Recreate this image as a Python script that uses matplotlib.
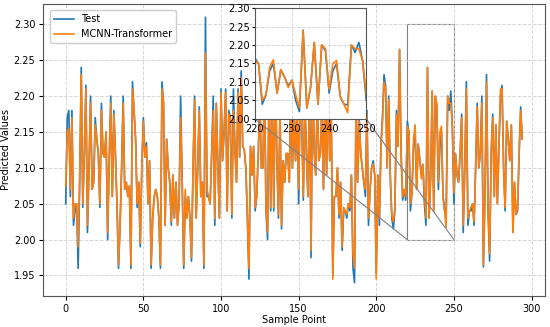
import matplotlib
matplotlib.use("Agg")
import matplotlib.pyplot as plt
from mpl_toolkits.axes_grid1.inset_locator import mark_inset

test_values = [
    2.05, 2.17, 2.18, 2.06, 2.18, 2.02, 2.04, 2.05, 1.96, 2.08,
    2.24, 2.045, 2.12, 2.215, 2.01, 2.10, 2.20, 2.07, 2.08, 2.17,
    2.14, 2.12, 2.045, 2.19, 2.12, 2.115, 2.15, 2.00, 2.11, 2.20,
    2.06, 2.18, 2.12, 2.05, 1.96, 2.02, 2.10, 2.20, 2.07, 2.08,
    2.06, 2.075, 1.96, 2.22, 2.18, 2.14, 2.045, 2.08, 1.99, 2.10,
    2.17, 2.115, 2.135, 2.05, 2.11, 1.96, 2.03, 2.06, 2.07, 2.06,
    2.03, 1.96, 2.22, 2.19, 2.02, 2.14, 2.10, 2.08, 2.02, 2.09,
    2.03, 2.08, 2.02, 2.05, 2.20, 2.08, 1.96, 2.06, 2.03, 2.06,
    2.03, 1.97, 2.10, 2.20, 2.03, 2.10, 2.185, 2.06, 2.08, 1.96,
    2.31, 2.06, 2.06, 2.05, 2.12, 2.20, 2.02, 2.19, 2.10, 2.03,
    2.21, 2.11, 2.15, 2.21, 2.04, 2.18, 2.17, 2.03, 2.21, 2.125,
    2.08, 2.21, 2.115, 2.235, 2.13, 2.125, 2.10, 2.03, 1.945, 2.13,
    2.09, 2.13, 2.04, 2.06, 2.12, 2.20, 2.10, 2.10, 2.22, 2.04,
    2.00, 2.24, 2.04, 2.20, 2.04, 2.25, 2.11, 2.03, 2.18, 2.015,
    2.11, 2.08, 2.12, 2.12, 2.08, 2.22, 2.10, 2.18, 2.11, 2.19,
    2.05, 2.21, 2.17, 2.055, 2.20, 2.12, 2.06, 2.22, 1.975, 2.24,
    2.125, 2.09, 2.20, 2.11, 2.12, 2.19, 2.07, 2.21, 2.09, 2.23,
    2.11, 2.18, 1.95, 2.06, 2.06, 2.10, 2.03, 2.08, 1.985, 2.04,
    2.04, 2.03, 2.05, 2.04, 2.09, 1.96, 1.94, 2.20, 2.08, 2.17,
    2.12, 2.10, 2.08, 2.06, 2.18, 2.02, 2.07, 2.10, 2.11, 2.09,
    1.953, 2.09, 2.02, 2.13, 2.17, 2.23, 2.215, 2.10, 2.20, 2.09,
    2.03, 2.015, 2.04, 2.18, 2.13, 2.265, 2.12, 2.055, 2.07, 2.055,
    2.165, 2.15, 2.04, 2.065, 2.13, 2.15, 2.07, 2.133, 2.113, 2.09,
    2.105, 2.05, 2.02, 2.24, 2.03, 2.085, 2.207, 2.04, 2.20, 2.185,
    2.07, 2.13, 2.15, 2.06, 2.04, 2.038, 2.20, 2.18, 2.207, 2.158,
    2.05, 2.12, 2.09, 2.08, 2.12, 2.175, 2.01, 2.10, 2.22, 2.02,
    2.04, 2.04, 2.05, 2.02, 2.10, 2.19, 2.10, 2.12, 2.20, 1.962,
    2.06, 2.23, 2.04, 1.97, 2.12, 2.175, 2.06, 2.16, 2.05, 2.13,
    2.20, 2.215, 2.10, 2.04, 2.165, 2.14, 2.11, 2.16, 2.01, 2.08,
    2.035, 2.04, 2.12, 2.185, 2.14,
]

pred_values = [
    2.075, 2.15, 2.155, 2.07, 2.17, 2.03, 2.05, 2.05, 1.99, 2.09,
    2.23, 2.05, 2.12, 2.21, 2.02, 2.10, 2.19, 2.07, 2.08, 2.16,
    2.14, 2.12, 2.05, 2.18, 2.12, 2.115, 2.15, 2.01, 2.11, 2.19,
    2.06, 2.175, 2.12, 2.05, 1.965, 2.02, 2.10, 2.19, 2.07, 2.08,
    2.06, 2.075, 1.965, 2.21, 2.18, 2.14, 2.05, 2.08, 1.995, 2.10,
    2.165, 2.115, 2.13, 2.05, 2.11, 1.965, 2.03, 2.06, 2.07, 2.06,
    2.03, 1.965, 2.21, 2.19, 2.02, 2.14, 2.10, 2.08, 2.025, 2.09,
    2.03, 2.08, 2.02, 2.05, 2.17, 2.08, 1.965, 2.07, 2.03, 2.06,
    2.03, 1.975, 2.10, 2.195, 2.03, 2.10, 2.18, 2.06, 2.08, 1.965,
    2.26, 2.07, 2.06, 2.05, 2.12, 2.18, 2.03, 2.19, 2.10, 2.03,
    2.205, 2.11, 2.15, 2.205, 2.04, 2.175, 2.17, 2.035, 2.18, 2.125,
    2.08, 2.205, 2.115, 2.225, 2.13, 2.125, 2.10, 2.035, 1.96, 2.13,
    2.09, 2.13, 2.045, 2.06, 2.12, 2.19, 2.10, 2.10, 2.21, 2.045,
    2.01, 2.23, 2.045, 2.20, 2.045, 2.24, 2.11, 2.035, 2.18, 2.02,
    2.11, 2.08, 2.12, 2.12, 2.08, 2.21, 2.10, 2.18, 2.11, 2.185,
    2.07, 2.20, 2.17, 2.06, 2.19, 2.12, 2.06, 2.21, 1.985, 2.23,
    2.125, 2.09, 2.19, 2.11, 2.12, 2.185, 2.07, 2.20, 2.09, 2.22,
    2.11, 2.175, 1.945, 2.06, 2.06, 2.10, 2.035, 2.08, 1.99, 2.045,
    2.04, 2.035, 2.05, 2.045, 2.09, 1.98, 1.96, 2.19, 2.08, 2.165,
    2.12, 2.10, 2.08, 2.07, 2.175, 2.03, 2.07, 2.10, 2.105, 2.09,
    1.945, 2.09, 2.03, 2.13, 2.165, 2.22, 2.21, 2.10, 2.195, 2.09,
    2.035, 2.025, 2.045, 2.175, 2.13, 2.265, 2.12, 2.06, 2.07, 2.06,
    2.158, 2.15, 2.05, 2.065, 2.14, 2.16, 2.07, 2.133, 2.113, 2.085,
    2.105, 2.065, 2.03, 2.24, 2.03, 2.085, 2.207, 2.04, 2.20, 2.19,
    2.08, 2.15, 2.158, 2.06, 2.04, 2.017, 2.20, 2.19, 2.19, 2.158,
    2.065, 2.12, 2.09, 2.08, 2.12, 2.17, 2.02, 2.10, 2.21, 2.03,
    2.04, 2.045, 2.05, 2.025, 2.10, 2.185, 2.10, 2.12, 2.19, 1.965,
    2.06, 2.22, 2.045, 1.98, 2.12, 2.17, 2.06, 2.16, 2.05, 2.13,
    2.21, 2.21, 2.10, 2.045, 2.165, 2.14, 2.11, 2.16, 2.01, 2.08,
    2.035, 2.045, 2.12, 2.18, 2.14,
]

x_ticks = [0, 50, 100, 150, 200, 250, 300]
y_ticks = [1.95, 2.00, 2.05, 2.10, 2.15, 2.20, 2.25, 2.30]
inset_x_ticks = [220, 230, 240, 250]
inset_y_ticks = [2.00, 2.05, 2.10, 2.15, 2.20, 2.25, 2.30]
zoom_range = (220, 250)
zoom_ylim = (2.00, 2.30)

fs = 7
fig = plt.figure(figsize=(5.5, 3.27), dpi=100)
ax = fig.add_axes([0.078, 0.095, 0.913, 0.893])
idx = list(range(len(test_values)))
ax.plot(idx, test_values, color="#1f77b4", lw=1.2, label="Test")
ax.plot(idx, pred_values, color="#ff7f0e", lw=1.2, label="MCNN-Transformer")
ax.set_xticks(x_ticks)
ax.set_yticks(y_ticks)
ax.set_yticklabels([f"{v:.2f}" for v in y_ticks])
ax.tick_params(labelsize=fs, length=3, pad=2.5)
ax.set_xlabel("Sample Point", fontsize=fs, labelpad=1)
ax.set_ylabel("Predicted Values", fontsize=fs, labelpad=2)
ax.grid(True, linestyle="--", color="#cccccc", lw=0.7, alpha=0.8)
for s in ax.spines.values():
    s.set_color("#555555")
ax.legend(loc="upper left", fontsize=fs, framealpha=1, edgecolor="#cccccc",
          bbox_to_anchor=(0.005, 0.995))

axins = ax.inset_axes([0.422, 0.606, 0.222, 0.380])
axins.plot(idx, test_values, color="#1f77b4", lw=1.2)
axins.plot(idx, pred_values, color="#ff7f0e", lw=1.2)
axins.set_xlim(*zoom_range)
axins.set_ylim(*zoom_ylim)
axins.set_xticks(inset_x_ticks)
axins.set_yticks(inset_y_ticks)
axins.set_yticklabels([f"{v:.2f}" for v in inset_y_ticks])
axins.tick_params(labelsize=fs, length=2, pad=1.5)
axins.grid(True, linestyle="--", color="#cccccc", lw=0.7, alpha=0.8)
for s in axins.spines.values():
    s.set_color("#555555")
mark_inset(ax, axins, loc1=3, loc2=4, fc="none", ec="0.5", lw=0.8)

fig.savefig("out.png", dpi=100)
